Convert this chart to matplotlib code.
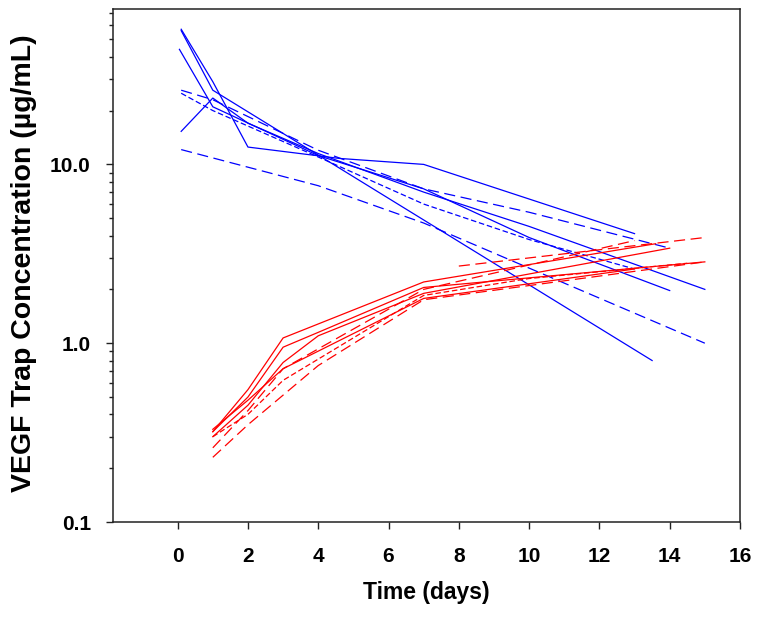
#!/usr/bin/env python3
"""
Free (blue) and bound (red) VEGF Trap concentration vs time, one line per subject.
Values read off the published figure.
"""

import matplotlib
matplotlib.use('Agg')
import matplotlib.pyplot as plt
from matplotlib.ticker import LogLocator, FixedLocator, FixedFormatter, NullFormatter

# free VEGF Trap (blue), one pair of lists per subject
free_1_days = [0.1, 1, 2, 4.6, 7, 13]
free_1_conc = [57, 29, 12.5, 10.8, 10.0, 4.1]
free_2_days = [0.1, 1, 13.5]
free_2_conc = [56, 26, 0.8]
free_3_days = [0.05, 1, 4, 7, 10, 14]
free_3_conc = [44, 21, 11.2, 7.3, 3.9, 1.97]
free_4_days = [0.1, 1, 2, 4, 7, 10, 15]
free_4_conc = [15.3, 23.5, 17, 11.5, 7.0, 4.5, 2.0]
free_5_days = [0.1, 1, 4, 7, 10, 14]
free_5_conc = [26, 23, 12, 7.3, 5.4, 3.4]
free_6_days = [0.1, 1, 4, 7, 10, 13]
free_6_conc = [25, 20, 11, 6.0, 3.8, 2.6]
free_7_days = [0.1, 4, 7, 15]
free_7_conc = [12.1, 7.6, 4.7, 1.0]

# bound VEGF Trap:VEGF complex (red)
bound_1_days = [1, 2, 3, 7, 13.6]
bound_1_conc = [0.32, 0.55, 1.07, 2.2, 3.6]
bound_2_days = [1, 2, 3, 4, 7, 15]
bound_2_conc = [0.32, 0.5, 0.95, 1.15, 2.05, 2.85]
bound_3_days = [1, 2, 3, 4, 7, 14]
bound_3_conc = [0.3, 0.45, 0.78, 1.1, 1.9, 3.4]
bound_4_days = [1, 2, 3, 7, 10, 13]
bound_4_conc = [0.33, 0.48, 0.72, 1.78, 2.15, 2.6]
bound_5_days = [1, 2, 3, 7, 13]
bound_5_conc = [0.26, 0.42, 0.72, 2.0, 3.75]
bound_6_days = [1, 2, 4, 7, 15]
bound_6_conc = [0.23, 0.35, 0.75, 1.75, 2.85]
bound_7_days = [8, 15]
bound_7_conc = [2.7, 3.9]
bound_8_days = [1, 2, 3, 7, 10, 14.5]
bound_8_conc = [0.3, 0.4, 0.62, 1.85, 2.3, 2.8]

x_ticks = [0, 2, 4, 6, 8, 10, 12, 14, 16]
y_ticks = [0.1, 1.0, 10.0]
y_tick_labels = ['0.1', '1.0', '10.0']

SOLID = (None, None)
DASH = (8, 4)
SHORT_DASH = (4, 2)


def main():
    plt.rcParams['font.family'] = ['Liberation Sans', 'DejaVu Sans']
    plt.rcParams['font.weight'] = 'bold'
    plt.rcParams['lines.scale_dashes'] = False

    fig = plt.figure(figsize=(7.62, 6.19), dpi=100)
    ax = fig.add_axes([0.1483, 0.1567, 0.8228, 0.8288])

    free = [
        (free_1_days, free_1_conc, SOLID),
        (free_2_days, free_2_conc, SOLID),
        (free_3_days, free_3_conc, SOLID),
        (free_4_days, free_4_conc, SOLID),
        (free_5_days, free_5_conc, DASH),
        (free_6_days, free_6_conc, SHORT_DASH),
        (free_7_days, free_7_conc, DASH),
    ]
    bound = [
        (bound_1_days, bound_1_conc, SOLID),
        (bound_2_days, bound_2_conc, SOLID),
        (bound_3_days, bound_3_conc, SOLID),
        (bound_4_days, bound_4_conc, SOLID),
        (bound_5_days, bound_5_conc, DASH),
        (bound_6_days, bound_6_conc, DASH),
        (bound_7_days, bound_7_conc, DASH),
        (bound_8_days, bound_8_conc, SHORT_DASH),
    ]

    for days, conc, dashes in free:
        line, = ax.plot(days, conc, color='#0000ff', linewidth=0.9)
        if dashes[0] is not None:
            line.set_dashes(dashes)
    for days, conc, dashes in bound:
        line, = ax.plot(days, conc, color='#ff0000', linewidth=0.9)
        if dashes[0] is not None:
            line.set_dashes(dashes)

    ax.set_yscale('log')
    ax.set_xlim(-1.84, 16)
    ax.set_ylim(0.1, 74)

    ax.xaxis.set_major_locator(FixedLocator(x_ticks))
    ax.yaxis.set_major_locator(FixedLocator(y_ticks))
    ax.yaxis.set_major_formatter(FixedFormatter(y_tick_labels))
    ax.yaxis.set_minor_locator(LogLocator(base=10, subs=range(2, 10)))
    ax.yaxis.set_minor_formatter(NullFormatter())

    ax.tick_params(axis='x', which='major', direction='out', length=5, width=1,
                   pad=13, labelsize=15, color='#222222')
    ax.tick_params(axis='y', which='major', direction='out', length=5, width=1,
                   pad=11, labelsize=15, color='#222222')
    ax.tick_params(axis='y', which='minor', direction='out', length=3, width=1,
                   color='#222222')
    for lbl in ax.get_xticklabels() + ax.get_yticklabels():
        lbl.set_fontweight('bold')

    for spine in ax.spines.values():
        spine.set_linewidth(1.1)
        spine.set_color('#222222')

    ax.set_xlabel("Time (days)", fontsize=16.5, fontweight='bold', labelpad=11)
    fig.text(0.031, 0.575, "VEGF Trap Concentration (\u00b5g/mL)", rotation=90,
             ha='center', va='center', fontsize=20.5, fontweight='bold')

    fig.savefig('out.png', dpi=100)


if __name__ == '__main__':
    main()
